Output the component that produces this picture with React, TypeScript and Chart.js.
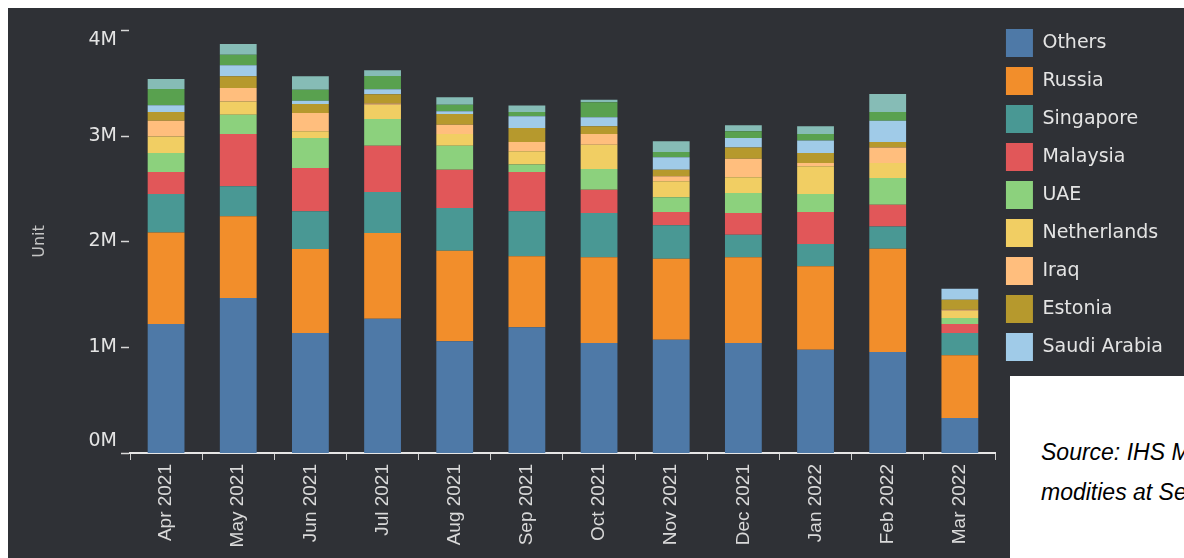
import React, { useEffect, useRef } from "react";
import { Chart, registerables } from "chart.js";

Chart.register(...registerables);

const months = [
  "Apr 2021", "May 2021", "Jun 2021", "Jul 2021", "Aug 2021", "Sep 2021",
  "Oct 2021", "Nov 2021", "Dec 2021", "Jan 2022", "Feb 2022", "Mar 2022",
];

// values in millions of units
const others = [1.22, 1.466, 1.135, 1.27, 1.056, 1.188, 1.04, 1.072, 1.04, 0.977, 0.955, 0.331];
const russia = [0.864, 0.772, 0.794, 0.81, 0.857, 0.672, 0.81, 0.766, 0.81, 0.788, 0.977, 0.593];
const singapore = [0.365, 0.284, 0.356, 0.388, 0.404, 0.425, 0.42, 0.315, 0.215, 0.211, 0.211, 0.211];
const malaysia = [0.208, 0.495, 0.41, 0.438, 0.362, 0.372, 0.22, 0.126, 0.205, 0.303, 0.205, 0.085];
const uae = [0.18, 0.182, 0.284, 0.252, 0.227, 0.07, 0.196, 0.139, 0.189, 0.17, 0.252, 0.057];
const netherlands = [0.157, 0.126, 0.063, 0.136, 0.111, 0.126, 0.23, 0.151, 0.148, 0.262, 0.142, 0.069];
const iraq = [0.149, 0.127, 0.173, 0.01, 0.088, 0.088, 0.101, 0.047, 0.176, 0.031, 0.148, 0.009];
const estonia = [0.082, 0.11, 0.085, 0.088, 0.101, 0.132, 0.072, 0.063, 0.107, 0.095, 0.051, 0.095];
const saudiArabia = [0.063, 0.104, 0.032, 0.048, 0.025, 0.111, 0.085, 0.117, 0.089, 0.117, 0.202, 0.104];
const hiddenTenth = [0.154, 0.101, 0.104, 0.126, 0.063, 0.041, 0.142, 0.05, 0.063, 0.063, 0.082, 0];
const hiddenEleventh = [0.095, 0.101, 0.126, 0.053, 0.069, 0.06, 0.025, 0.101, 0.057, 0.072, 0.17, 0];

const seriesNames = [
  "Others", "Russia", "Singapore", "Malaysia", "UAE", "Netherlands",
  "Iraq", "Estonia", "Saudi Arabia", "(10th)", "(11th)",
];
const seriesValues = [
  others, russia, singapore, malaysia, uae, netherlands,
  iraq, estonia, saudiArabia, hiddenTenth, hiddenEleventh,
];
const seriesColors = [
  "#4E79A7", "#F28E2B", "#499894", "#E15759", "#8CD17D", "#F1CE63",
  "#FFBE7D", "#B6992D", "#A0CBE8", "#59A14F", "#86BCB6",
];
const legendCount = 9;

const yTickValues = [0, 1, 2, 3, 4];
const yTickLabels = ["0M", "1M", "2M", "3M", "4M"];
const yMax = 4.104;
const yTitle = "Unit";

const BG = "#2f3136";
const TEXT = "#e4e4e4";
const UI_FONT = "'DejaVu Sans'";

const yLabelPlugin = {
  id: "yLabels",
  afterDraw(chart: any) {
    const { ctx, chartArea } = chart;
    const y = chart.scales.y;
    ctx.save();
    ctx.fillStyle = TEXT;
    ctx.strokeStyle = "#d8d8d8";
    ctx.lineWidth = 1.5;
    ctx.font = `19px ${UI_FONT}`;
    ctx.textAlign = "right";
    ctx.textBaseline = "middle";
    yTickValues.forEach((v, i) => {
      const py = y.getPixelForValue(v);
      let off = 0;
      if (i === yTickValues.length - 1) off = 10;
      if (i === 0) off = -12;
      ctx.fillText(yTickLabels[i], chartArea.left - 13, py + off);
      ctx.beginPath();
      ctx.moveTo(chartArea.left - 9, Math.round(py) + 0.5);
      ctx.lineTo(chartArea.left - 1, Math.round(py) + 0.5);
      ctx.stroke();
    });
    // axis title
    ctx.translate(32, (y.getPixelForValue(4) + y.getPixelForValue(0)) / 2);
    ctx.rotate(-Math.PI / 2);
    ctx.textAlign = "center";
    ctx.fillStyle = "#c4c4c4";
    ctx.font = `16px ${UI_FONT}`;
    ctx.fillText(yTitle, 0, 0);
    ctx.restore();
  },
};

export default function App() {
  const ref = useRef<HTMLCanvasElement | null>(null);

  useEffect(() => {
    if (!ref.current) return;
    const chart = new Chart(ref.current, {
      type: "bar",
      data: {
        labels: months,
        datasets: seriesNames.map((name, i) => ({
          label: name,
          data: seriesValues[i],
          backgroundColor: seriesColors[i],
          borderWidth: 0,
          barPercentage: 0.51,
          categoryPercentage: 1,
        })),
      },
      options: {
        responsive: false,
        animation: false,
        layout: { padding: { top: 11, right: 11, left: 0, bottom: 0 } },
        plugins: {
          tooltip: { enabled: false },
          legend: {
            position: "right",
            align: "start",
            labels: {
              color: TEXT,
              font: { family: "DejaVu Sans", size: 19 },
              boxWidth: 27,
              boxHeight: 28,
              padding: 10,
              filter: (item: any) => item.datasetIndex < legendCount,
            },
          },
        },
        scales: {
          x: {
            stacked: true,
            afterFit: (s: any) => {
              s.height = 105;
            },
            grid: {
              display: true,
              drawOnChartArea: false,
              drawTicks: true,
              tickLength: 7,
              color: "#cfcfcf",
              offset: true,
            },
            border: { display: true, color: "#e6e6e6", width: 2 },
            ticks: {
              color: "#d9d9d9",
              font: { family: "Liberation Sans", size: 19 },
              maxRotation: 90,
              minRotation: 90,
              autoSkip: false,
              padding: 4,
            },
          },
          y: {
            stacked: true,
            min: 0,
            max: yMax,
            afterFit: (s: any) => {
              s.width = 122;
            },
            grid: { display: false },
            border: { display: false },
            ticks: { display: false, stepSize: 1 },
          },
        },
      },
      plugins: [yLabelPlugin],
    });
    return () => chart.destroy();
  }, []);

  return (
    <div
      style={{
        position: "fixed",
        left: 8,
        top: 8,
        width: 1176,
        height: 550,
        background: BG,
        overflow: "hidden",
      }}
    >
      <canvas ref={ref} width={1176} height={550} style={{ display: "block" }} />
      <div
        style={{
          position: "absolute",
          left: 1002,
          top: 368,
          width: 174,
          height: 182,
          background: "#ffffff",
          overflow: "hidden",
          whiteSpace: "nowrap",
          fontFamily: "'Liberation Sans', Arial, sans-serif",
          fontStyle: "italic",
          fontSize: 23,
          color: "#000",
        }}
      >
        <div style={{ position: "absolute", left: 31, top: 63, lineHeight: "26px" }}>
          Source: IHS Markit Com-
        </div>
        <div style={{ position: "absolute", left: 31, top: 103, lineHeight: "26px" }}>
          modities at Sea
        </div>
      </div>
    </div>
  );
}
